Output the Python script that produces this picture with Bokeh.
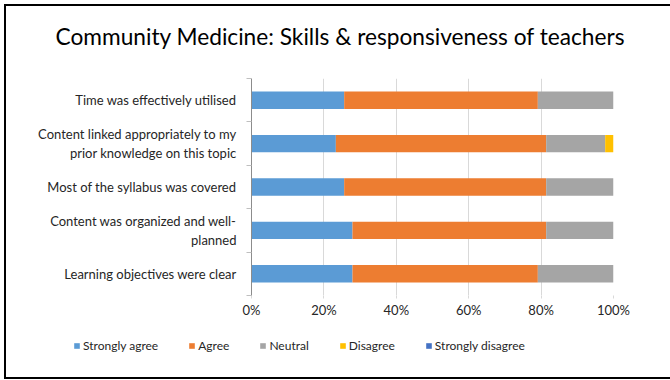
from bokeh.plotting import figure
from bokeh.layouts import column
from bokeh.models import (ColumnDataSource, Range1d, FixedTicker, NumeralTickFormatter,
                          Legend, LegendItem, Label)
from bokeh.embed import file_html
from bokeh.resources import INLINE

# ---- data (top-to-bottom as displayed) ----
title_text = "Community Medicine: Skills & responsiveness of teachers"
categories = [
    "Time was effectively utilised",
    "Content linked appropriately to my\nprior knowledge on this topic",
    "Most of the syllabus was covered",
    "Content was organized and well-\nplanned",
    "Learning objectives were clear",
]
strongly_agree = [25.6, 23.3, 25.6, 27.9, 27.9]
agree = [53.5, 58.1, 55.8, 53.5, 51.2]
neutral = [20.9, 16.3, 18.6, 18.6, 20.9]
disagree = [0.0, 2.3, 0.0, 0.0, 0.0]
strongly_disagree = [0.0, 0.0, 0.0, 0.0, 0.0]

series = ["Strongly agree", "Agree", "Neutral", "Disagree", "Strongly disagree"]
colors = ["#5B9BD5", "#ED7D31", "#A5A5A5", "#FFC000", "#4472C4"]
x_ticks = [0, 0.2, 0.4, 0.6, 0.8, 1.0]

FONT = "Lato"
TXT = "#262626"
W = 664


def bare(h):
    f = figure(width=W, height=h, output_backend="svg", toolbar_location=None,
               x_range=Range1d(0, W), y_range=Range1d(0, h),
               x_axis_type=None, y_axis_type=None)
    f.min_border = 0
    f.frame_align = False
    f.outline_line_color = None
    f.grid.grid_line_color = None
    f.background_fill_color = "white"
    f.border_fill_color = "white"
    return f


# ---- header with title ----
head = bare(66)
head.add_layout(Label(x=334, y=36, text=title_text, text_font=FONT,
                      text_font_size="22.7px", text_color="#000",
                      text_align="center", text_baseline="middle"))

# ---- main chart ----
n = len(categories)
cats_bottom_up = categories[::-1]
ypos = list(range(1, n + 1))
data = {"y": ypos}
for name, vals in zip(series, [strongly_agree, agree, neutral, disagree, strongly_disagree]):
    data[name] = [v / 100.0 for v in vals[::-1]]
source = ColumnDataSource(data)

p = figure(width=W, height=253, output_backend="svg", toolbar_location=None,
           x_range=Range1d(0, 1), y_range=Range1d(0.5, n + 0.5))
p.frame_align = False
p.min_border_left = 245
p.min_border_right = 57
p.min_border_top = 6
p.min_border_bottom = 30
p.outline_line_color = None
p.background_fill_color = "white"
p.border_fill_color = "white"

p.hbar_stack(series, y="y", height=0.4, source=source, color=colors, line_color=None)

p.xaxis.ticker = FixedTicker(ticks=x_ticks)
p.xaxis.formatter = NumeralTickFormatter(format="0%")
p.xaxis.axis_line_color = None
p.xaxis.major_tick_line_color = "#D9D9D9"
p.xaxis.major_tick_out = 3
p.xaxis.major_tick_in = 0
p.xaxis.minor_tick_line_color = None
p.xaxis.major_label_standoff = 3
p.xaxis.major_label_text_font = FONT
p.xaxis.major_label_text_font_size = "13px"
p.xaxis.major_label_text_color = TXT

p.yaxis.ticker = FixedTicker(ticks=ypos, minor_ticks=[i + 0.5 for i in range(0, n + 1)])
p.yaxis.major_label_overrides = {i: c for i, c in zip(ypos, cats_bottom_up)}
p.yaxis.axis_line_color = "#8C8C8C"
p.yaxis.major_tick_line_color = None
p.yaxis.major_tick_out = 0
p.yaxis.major_tick_in = 0
p.yaxis.minor_tick_line_color = "#BFBFBF"
p.yaxis.minor_tick_out = 5
p.yaxis.minor_tick_in = 0
p.yaxis.major_label_standoff = 10
p.yaxis.major_label_text_font = FONT
p.yaxis.major_label_text_font_size = "13px"
p.yaxis.major_label_text_color = TXT
p.yaxis.major_label_text_align = "right"

p.xgrid.grid_line_color = "#D9D9D9"
p.xgrid.ticker = FixedTicker(ticks=x_ticks)
p.ygrid.grid_line_color = None

# ---- legend strip (swatch renderers hidden, only used by the legend) ----
leg = bare(52)
leg_renderers = leg.hbar_stack(series, y="y", height=0.4, source=source, color=colors,
                               line_color=None)
for r in leg_renderers:
    r.visible = False
legend = Legend(items=[LegendItem(label=s, renderers=[r]) for s, r in zip(series, leg_renderers)],
                orientation="horizontal", location=(67, 24),
                glyph_width=7, glyph_height=7, label_standoff=3, spacing=30,
                padding=0, margin=0, border_line_color=None,
                background_fill_alpha=0, inactive_fill_alpha=0,
                label_text_font=FONT, label_text_font_size="12px",
                label_text_color=TXT)
leg.add_layout(legend)

layout = column(head, p, leg, spacing=0)
layout.styles = {"margin-left": "4px", "margin-top": "4px",
                 "border-left": "2px solid #000", "border-top": "2px solid #000",
                 "border-bottom": "2px solid #000", "width": "670px"}

open("out.html", "w").write(file_html(layout, INLINE))
